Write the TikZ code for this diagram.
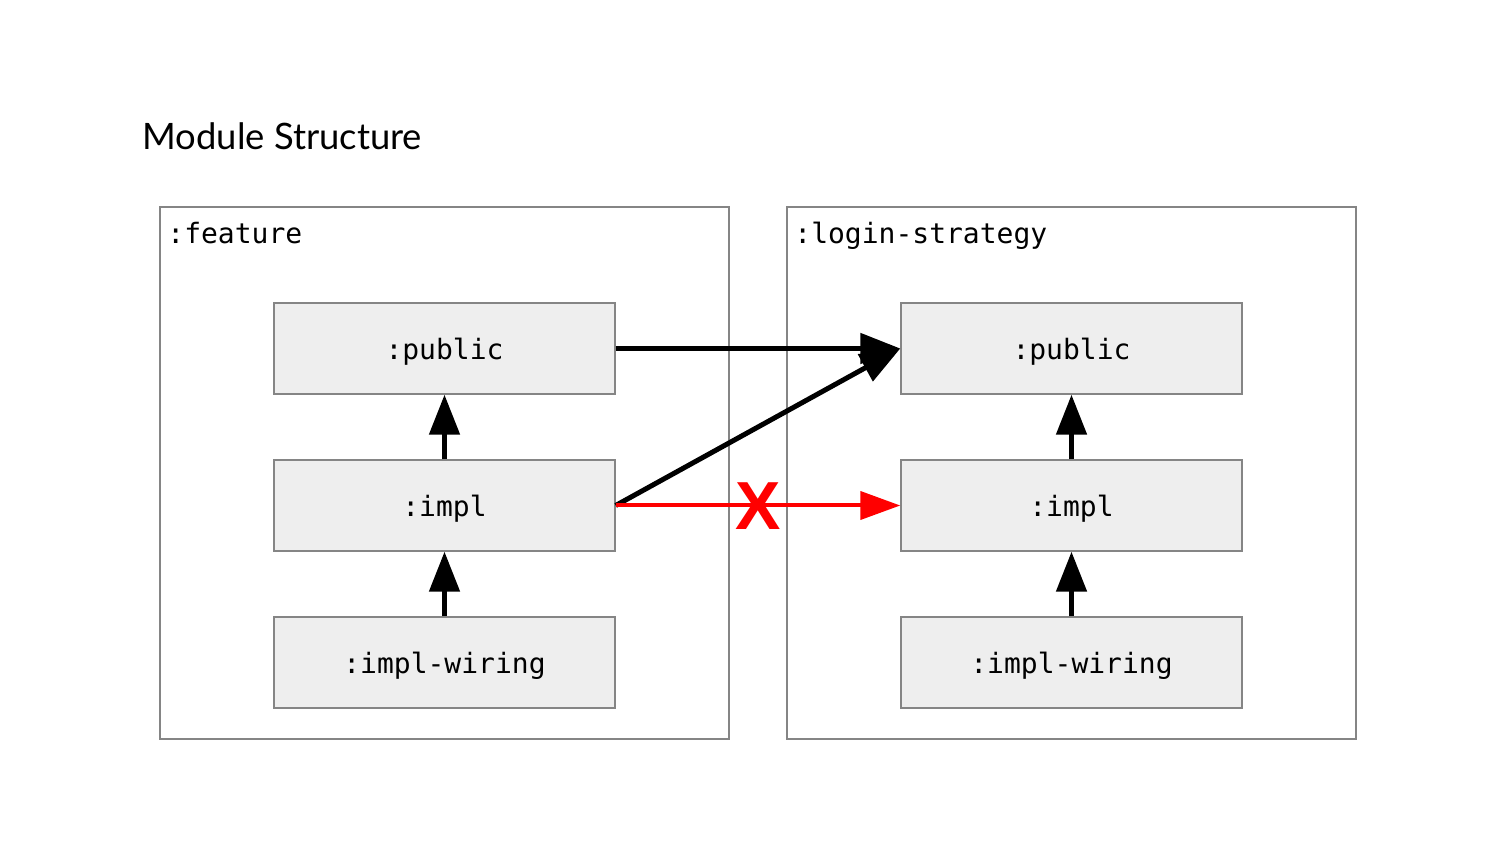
\documentclass[tikz,border=0pt]{standalone}
\usepackage{fontspec}
\setmainfont{Lato}
\setmonofont{DejaVu Sans Mono}
\newfontfamily\crossfont{Liberation Sans}
\usetikzlibrary{arrows.meta}
\definecolor{boxline}{HTML}{858585}
\definecolor{boxfill}{HTML}{EEEEEE}

\begin{document}
\begin{tikzpicture}[x=0.5pt, y=-0.5pt,
    outerbox/.style={draw=boxline, line width=0.7pt, minimum width=284.5pt, minimum height=266pt, inner sep=0pt},
    modbox/.style={draw=boxline, fill=boxfill, line width=0.7pt, minimum width=170.5pt, minimum height=45.5pt, text depth=0pt, font=\ttfamily\fontsize{14}{16}\selectfont},
    boxtitle/.style={anchor=base west, inner sep=0pt, font=\ttfamily\fontsize{14}{16}\selectfont},
    dep/.style={-{Triangle[length=20pt, width=15pt]}, line width=2.5pt},
    baddep/.style={-{Triangle[length=20pt, width=14pt]}, line width=2pt, red}]
    % page, pixel coordinates with y pointing down
    \useasboundingbox (0,0) rectangle (1500,844);

    \node[anchor=base west, inner sep=0pt, font=\fontsize{18.2}{21}\selectfont] (title) at (142,150) {Module Structure};

    % the two modules
    \node[outerbox] (featBox) at (444.5,473) {};
    \node[outerbox] (loginBox) at (1071.5,473) {};
    \node[boxtitle] (featName) at (167,244) {:feature};
    \node[boxtitle] (loginName) at (794,244) {:login-strategy};

    % sub-modules of :feature
    \node[modbox] (featPublic) at (444.5,348.5) {:public};
    \node[modbox] (featImpl) at (444.5,505.5) {:impl};
    \node[modbox] (featWiring) at (444.5,662.5) {:impl-wiring};

    % sub-modules of :login-strategy
    \node[modbox] (loginPublic) at (1071.5,348.5) {:public};
    \node[modbox] (loginImpl) at (1071.5,505.5) {:impl};
    \node[modbox] (loginWiring) at (1071.5,662.5) {:impl-wiring};

    % allowed dependencies
    \draw[dep] (featImpl) -- (featPublic);
    \draw[dep] (featWiring) -- (featImpl);
    \draw[dep] (loginImpl) -- (loginPublic);
    \draw[dep] (loginWiring) -- (loginImpl);
    \draw[dep] (featPublic.east) -- (loginPublic.west);
    \draw[dep] (featImpl.east) -- (loginPublic.west);

    % forbidden dependency
    \draw[baddep] (featImpl.east) -- (loginImpl.west);
    \node[text=red, inner sep=0pt, font=\crossfont\bfseries\fontsize{34}{34}\selectfont] (noDep) at (758,506) {X};
\end{tikzpicture}
\end{document}
